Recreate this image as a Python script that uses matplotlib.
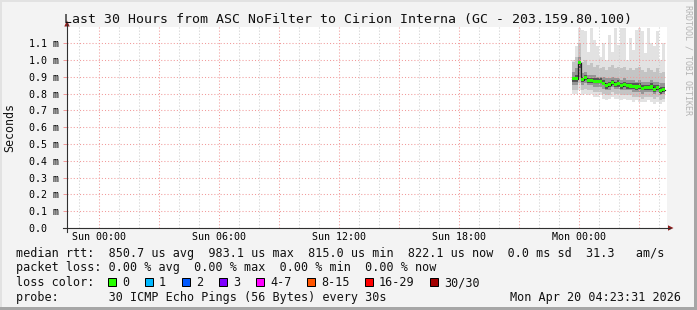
import numpy as np
import pandas as pd
import matplotlib
matplotlib.use('Agg')
import matplotlib.pyplot as plt
import matplotlib.dates as mdates
from matplotlib.patches import Rectangle, Polygon
from matplotlib.lines import Line2D
from matplotlib.ticker import FixedLocator, FuncFormatter

W, H = 697, 310
MONO = 'DejaVu Sans Mono'

title = 'Last 30 Hours from ASC NoFilter to Cirion Interna (GC - 203.159.80.100)'
graph_end = pd.Timestamp('2026-04-20 04:23:31')
graph_start = graph_end - pd.Timedelta(hours=30)

# one sample every 9 minutes, values in ms
bin_start = pd.Timestamp('2026-04-19 23:39')
bin_minutes = 9
median = [0.887, 0.887, 0.983, 0.881, 0.893, 0.875, 0.875, 0.871, 0.871, 0.870,
          0.861, 0.847, 0.851, 0.867, 0.855, 0.859, 0.847, 0.851, 0.847, 0.845,
          0.843, 0.839, 0.841, 0.831, 0.835, 0.835, 0.839, 0.826, 0.835, 0.818, 0.822]
smoke_lo = [0.80, 0.80, 0.82, 0.79, 0.80, 0.79, 0.80, 0.78, 0.78, 0.79,
            0.77, 0.76, 0.77, 0.78, 0.77, 0.77, 0.76, 0.77, 0.76, 0.76,
            0.75, 0.76, 0.75, 0.75, 0.75, 0.76, 0.75, 0.74, 0.75, 0.74, 0.75]
smoke_p10 = [0.82, 0.82, 0.86, 0.82, 0.83, 0.82, 0.82, 0.81, 0.81, 0.81,
             0.80, 0.79, 0.79, 0.81, 0.80, 0.80, 0.79, 0.79, 0.79, 0.79,
             0.78, 0.78, 0.78, 0.77, 0.78, 0.78, 0.78, 0.77, 0.78, 0.76, 0.77]
smoke_q1 = [0.85, 0.85, 0.90, 0.85, 0.86, 0.85, 0.85, 0.84, 0.84, 0.84,
            0.83, 0.82, 0.82, 0.84, 0.83, 0.83, 0.82, 0.82, 0.82, 0.82,
            0.81, 0.81, 0.81, 0.80, 0.81, 0.81, 0.81, 0.80, 0.81, 0.79, 0.80]
smoke_p40 = [0.87, 0.87, 0.95, 0.87, 0.88, 0.86, 0.86, 0.86, 0.86, 0.86,
             0.85, 0.83, 0.84, 0.85, 0.84, 0.84, 0.83, 0.84, 0.83, 0.83,
             0.83, 0.82, 0.83, 0.82, 0.82, 0.82, 0.82, 0.81, 0.82, 0.80, 0.81]
smoke_p60 = [0.90, 0.91, 0.99, 0.90, 0.91, 0.89, 0.89, 0.89, 0.89, 0.89,
             0.88, 0.86, 0.87, 0.88, 0.87, 0.88, 0.86, 0.87, 0.86, 0.86,
             0.86, 0.86, 0.86, 0.85, 0.85, 0.85, 0.86, 0.85, 0.85, 0.84, 0.84]
smoke_q3 = [0.93, 0.95, 1.02, 0.92, 0.93, 0.91, 0.91, 0.91, 0.90, 0.90,
            0.90, 0.89, 0.89, 0.90, 0.89, 0.89, 0.88, 0.89, 0.88, 0.88,
            0.88, 0.87, 0.88, 0.87, 0.87, 0.87, 0.88, 0.87, 0.87, 0.86, 0.86]
smoke_p90 = [0.99, 1.02, 1.10, 0.99, 1.00, 0.97, 0.98, 0.96, 0.97, 0.95,
             0.96, 0.94, 0.96, 0.97, 0.95, 0.96, 0.95, 0.96, 0.94, 0.95,
             0.94, 0.95, 0.96, 0.94, 0.93, 0.95, 0.94, 0.93, 0.95, 0.92, 0.93]
smoke_hi = [1.00, 1.08, 1.19, 1.18, 1.17, 1.05, 1.19, 1.12, 1.08, 1.02,
            1.10, 1.00, 1.15, 1.05, 1.19, 1.09, 1.19, 1.19, 1.00, 1.13,
            1.06, 1.18, 1.19, 1.17, 1.04, 1.19, 1.10, 1.08, 1.17, 1.00, 1.10]

y_ticks = [0.0, 0.1, 0.2, 0.3, 0.4, 0.5, 0.6, 0.7, 0.8, 0.9, 1.0, 1.1]

legend_rtt = 'median rtt:  850.7 us avg  983.1 us max  815.0 us min  822.1 us now  0.0 ms sd  31.3   am/s'
legend_loss = 'packet loss: 0.00 % avg  0.00 % max  0.00 % min  0.00 % now'
loss_labels = ['0', '1', '2', '3', '4-7', '8-15', '16-29', '30/30']
loss_colors = ['#26ff00', '#00b8ff', '#0059ff', '#7e00ff', '#ff00ff', '#ff5500', '#ff0000', '#a10000']
loss_box_x = [108, 145, 182, 219, 256, 307, 365, 430]
probe_text = 'probe:       30 ICMP Echo Pings (56 Bytes) every 30s'
stamp_text = 'Mon Apr 20 04:23:31 2026'


def fx(x):
    return x / W


def fy(y):
    return 1 - y / H


fig = plt.figure(figsize=(W / 100, H / 100), dpi=100, facecolor='#f3f3f3')

# 3d frame around the canvas
fig.patches.append(Rectangle((0, 0), fx(2), 1, transform=fig.transFigure, color='#e2e2e2', lw=0))
fig.patches.append(Rectangle((0, fy(2)), 1, 2 / H, transform=fig.transFigure, color='#e2e2e2', lw=0))
fig.patches.append(Rectangle((fx(W - 3), 0), 3 / W, 1, transform=fig.transFigure, color='#a6a6a6', lw=0))
fig.patches.append(Rectangle((0, 0), 1, 3 / H, transform=fig.transFigure, color='#a6a6a6', lw=0))

ax = fig.add_axes([fx(67), fy(228), 600 / W, 201 / H])
ax.set_facecolor('white')
for sp in ax.spines.values():
    sp.set_visible(False)

times = pd.date_range(bin_start, periods=len(median), freq=f'{bin_minutes}min')
t = mdates.date2num(times.to_pydatetime())
w = bin_minutes / 1440.0

med = np.array(median)

# smoke, lighter outside, darker towards the median
layers = [(smoke_lo, smoke_hi, '#e2e2e2'),
          (smoke_p10, smoke_p90, '#c4c4c4'),
          (smoke_q1, smoke_q3, '#969696'),
          (smoke_p40, smoke_p60, '#555555')]
for i, (bot, top, col) in enumerate(layers):
    bot = np.array(bot)
    top = np.array(top)
    ax.bar(t, top - bot, bottom=bot, width=w, align='edge', color=col, lw=0, zorder=1 + i * 0.1)

# median line, black step underneath + loss colored band
ax.step(np.append(t, t[-1] + w), np.append(med, med[-1]), where='post', color='#202020', lw=0.9, zorder=3)
ax.bar(t, 0.018, bottom=med - 0.009, width=w, align='edge', color=loss_colors[0], lw=0, zorder=3.1)

ax.set_xlim(mdates.date2num(graph_start.to_pydatetime()), mdates.date2num(graph_end.to_pydatetime()))
ax.set_ylim(0, 1.196)

ax.xaxis.set_major_locator(mdates.HourLocator(byhour=range(0, 24, 3)))
ax.xaxis.set_minor_locator(mdates.HourLocator())


def xfmt(v, pos):
    d = mdates.num2date(v)
    if d.hour % 6 == 0:
        return d.strftime('%a %H:%M')
    return ''


ax.xaxis.set_major_formatter(FuncFormatter(xfmt))
ax.yaxis.set_major_locator(FixedLocator(y_ticks))
ax.yaxis.set_major_formatter(FuncFormatter(lambda v, p: '0.0  ' if abs(v) < 1e-9 else f'{v:.1f} m'))

ax.set_axisbelow(False)
ax.grid(which='minor', axis='x', color='#cfcfcf', ls=(0, (1, 2)), lw=0.75)
ax.grid(which='major', axis='both', color='#f19a9a', ls=(0, (1, 2)), lw=0.75)
ax.tick_params(axis='x', which='both', length=0, pad=2.6, labelsize=7.2)
ax.tick_params(axis='y', length=2.9, width=0.72, color='#f19a9a', pad=2.9, labelsize=7.2)
for lab in ax.get_xticklabels() + ax.get_yticklabels():
    lab.set_fontfamily(MONO)

# axes with arrows
fig.add_artist(Line2D([fx(67), fx(67)], [fy(232), fy(24)], transform=fig.transFigure, color='#303030', lw=0.8))
fig.add_artist(Line2D([fx(63), fx(670)], [fy(228), fy(228)], transform=fig.transFigure, color='#303030', lw=0.8))
fig.add_artist(Polygon([(fx(64.3), fy(26.5)), (fx(69.7), fy(26.5)), (fx(67), fy(20.5))],
                       closed=True, transform=fig.transFigure, color='#8e1c1c', lw=0))
fig.add_artist(Polygon([(fx(668), fy(225.3)), (fx(668), fy(230.7)), (fx(673.5), fy(228))],
                       closed=True, transform=fig.transFigure, color='#8e1c1c', lw=0))

fig.text(0.5, fy(23.5), title, ha='center', va='baseline', fontsize=9.5, family=MONO, color='#111111')
fig.text(fx(10), fy(127.5), 'Seconds', rotation=90, ha='center', va='center', fontsize=8.4, family=MONO, color='#111111')
fig.text(fx(688), fy(60), 'RRDTOOL / TOBI OETIKER', rotation=270, ha='center', va='center',
         fontsize=6, family=MONO, color='#b4b4b4')

fig.text(fx(16), fy(257), legend_rtt, ha='left', va='baseline', fontsize=8.5, family=MONO, color='#111111')
fig.text(fx(16), fy(271.5), legend_loss, ha='left', va='baseline', fontsize=8.5, family=MONO, color='#111111')
fig.text(fx(16), fy(286), 'loss color:', ha='left', va='baseline', fontsize=8.5, family=MONO, color='#111111')
for bx, lab, col in zip(loss_box_x, loss_labels, loss_colors):
    fig.patches.append(Rectangle((fx(bx), fy(285.5)), 8 / W, 8 / H, transform=fig.transFigure,
                                 facecolor=col, edgecolor='black', lw=0.72))
    fig.text(fx(bx + 14), fy(286), lab, ha='left', va='baseline', fontsize=8.5, family=MONO, color='#111111')
fig.text(fx(16), fy(300.5), probe_text, ha='left', va='baseline', fontsize=8.5, family=MONO, color='#111111')
fig.text(fx(681), fy(300.5), stamp_text, ha='right', va='baseline', fontsize=8.5, family=MONO, color='#111111')

fig.savefig('out.png', dpi=100, facecolor=fig.get_facecolor())
